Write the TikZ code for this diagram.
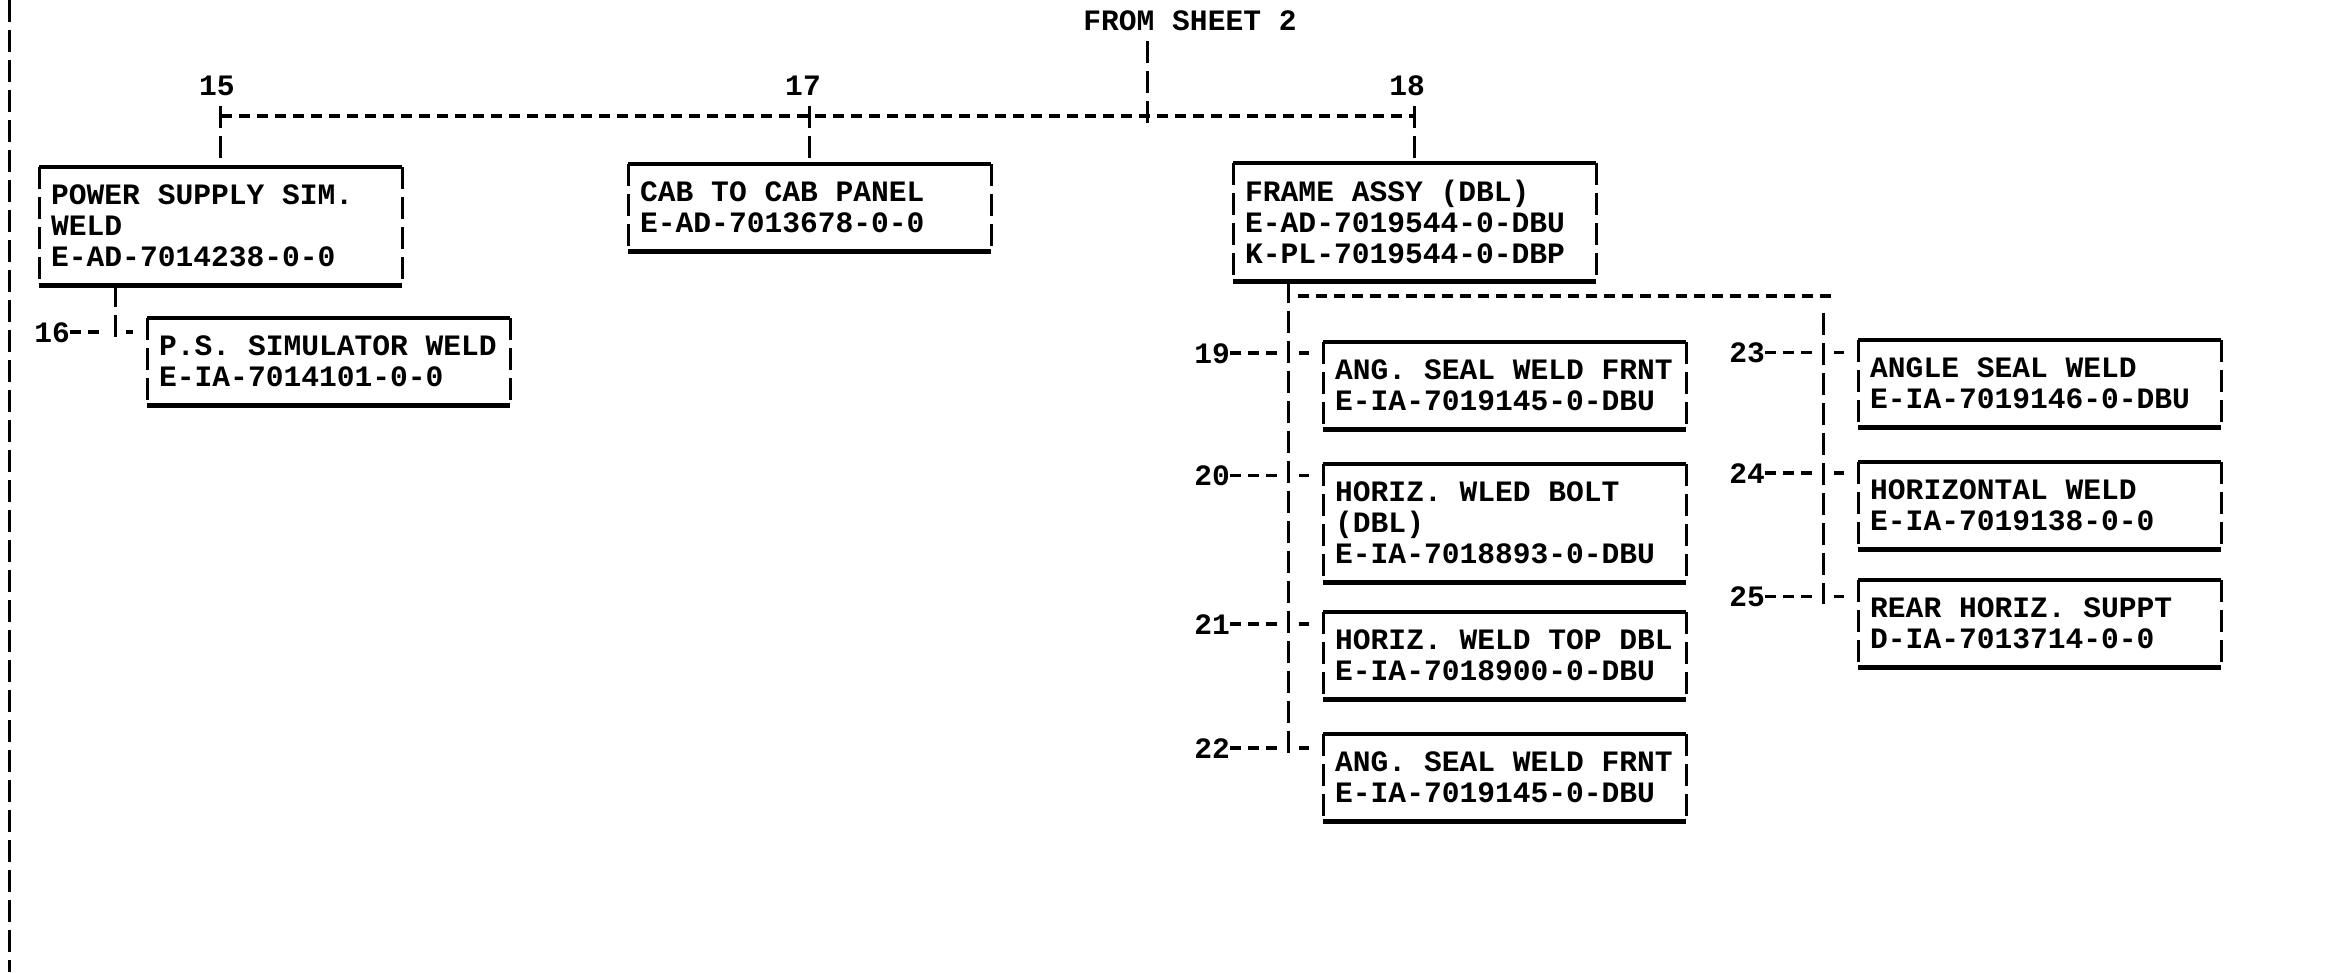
\documentclass[tikz,border=0pt]{standalone}
\usepackage{fontspec}
\usepackage{tikz}
\newfontfamily\chartmono{Liberation Mono}
\newcommand{\chartfont}{\chartmono\bfseries\fontsize{29.6pt}{31pt}\selectfont}

\begin{document}
\begin{tikzpicture}[x=1pt,y=-1pt,
		part/.style={anchor=north west,inner xsep=12pt,inner ysep=0pt,text width=339pt,align=flush left,font=\chartfont},
		twoline/.style={part,minimum height=87pt},
		threeline/.style={part,minimum height=118pt},
		num/.style={inner sep=0pt,font=\chartfont},
		rule/.style={line width=4.5pt},
		vline/.style={line width=3pt,dash pattern=on 22pt off 8pt},
		hline/.style={line width=3.5pt,dash pattern=on 11pt off 7pt},
		stub/.style={line width=3.5pt,shorten <=11pt,shorten >=14pt}]
			\useasboundingbox (0,0) rectangle (2332,972);
			\draw[vline] (9,0) -- (9,972);
			
			% top level
			\node[num,anchor=base] (from) at (1190,30) {FROM SHEET 2};
			\coordinate (bus) at (1147,116);
			\node[num,anchor=base] (l15) at (217,95) {15};
			\node[num,anchor=base] (l17) at (803,95) {17};
			\node[num,anchor=base] (l18) at (1407,95) {18};
			
			\node[threeline] (b15) at (39,167) {POWER SUPPLY SIM.\\WELD\\E-AD-7014238-0-0};
			\node[twoline] (b17) at (628,164) {CAB TO CAB PANEL\\E-AD-7013678-0-0};
			\node[threeline] (b18) at (1233,163) {FRAME ASSY (DBL)\\E-AD-7019544-0-DBU\\K-PL-7019544-0-DBP};
			
			\draw[vline,shorten <=11pt,shorten >=-11pt] (from.south -| bus) -- (bus);
			\draw[hline] (b15.north |- bus) -- (b18.north |- bus);
			\foreach \n in {15,17,18}
			\draw[vline,shorten <=11pt] (b\n.north |- l\n.south) -- (b\n.north);
			
			% under 15
			\coordinate (stem) at (115,300);
			\node[twoline] (b16) at (147,318) {P.S. SIMULATOR WELD\\E-IA-7014101-0-0};
			\node[num,anchor=base east] (l16) at (70,342) {16};
			\draw[vline,shorten >=-8pt] (b15.south -| stem) -- (l16.east -| stem);
			\draw[hline,shorten >=10pt] (l16.east) -- (l16.east -| stem);
			\draw[stub] (l16.east -| stem) -- (l16.east -| b16.west);
			
			% under 18
			\coordinate (split) at (1288,296);
			\coordinate (rsplit) at (1823,296);
			\node[twoline] (b19) at (1323,342) {ANG. SEAL WELD FRNT\\E-IA-7019145-0-DBU};
			\node[threeline] (b20) at (1323,464) {HORIZ. WLED BOLT\\(DBL)\\E-IA-7018893-0-DBU};
			\node[twoline] (b21) at (1323,612) {HORIZ. WELD TOP DBL\\E-IA-7018900-0-DBU};
			\node[twoline] (b22) at (1323,734) {ANG. SEAL WELD FRNT\\E-IA-7019145-0-DBU};
			\node[twoline] (b23) at (1858,340) {ANGLE SEAL WELD\\E-IA-7019146-0-DBU};
			\node[twoline] (b24) at (1858,462) {HORIZONTAL WELD\\E-IA-7019138-0-0};
			\node[twoline] (b25) at (1858,580) {REAR HORIZ. SUPPT\\D-IA-7013714-0-0};
			
			\node[num,anchor=base east] (l19) at (1230,363) {19};
			\node[num,anchor=base east] (l20) at (1230,485) {20};
			\node[num,anchor=base east] (l21) at (1230,634) {21};
			\node[num,anchor=base east] (l22) at (1230,758) {22};
			\node[num,anchor=base east] (l23) at (1765,362) {23};
			\node[num,anchor=base east] (l24) at (1765,483) {24};
			\node[num,anchor=base east] (l25) at (1765,606) {25};
			
			\draw[vline,shorten >=-8pt] (b18.south -| split) -- (l22.east -| split);
			\draw[hline,shorten <=10pt,shorten >=-9pt] (split) -- (rsplit);
			\draw[vline,shorten <=17pt,shorten >=-8pt] (rsplit) -- (l25.east -| rsplit);
			\foreach \n in {19,20,21,22} {
				\draw[hline,shorten >=10pt] (l\n.east) -- (l\n.east -| split);
				\draw[stub] (l\n.east -| split) -- (l\n.east -| b\n.west);
			}
			\foreach \n in {23,24,25} {
				\draw[hline,shorten >=10pt] (l\n.east) -- (l\n.east -| rsplit);
				\draw[stub] (l\n.east -| rsplit) -- (l\n.east -| b\n.west);
			}
			
			% box outlines
			\foreach \b in {b15,b16,b17,b18,b19,b20,b21,b22,b23,b24,b25} {
				\draw[rule] (\b.north west) -- (\b.north east);
				\draw[rule] (\b.south west) -- (\b.south east);
				\draw[vline] (\b.north west) -- (\b.south west);
				\draw[vline] (\b.north east) -- (\b.south east);
			}
			\end{tikzpicture}
\end{document}
